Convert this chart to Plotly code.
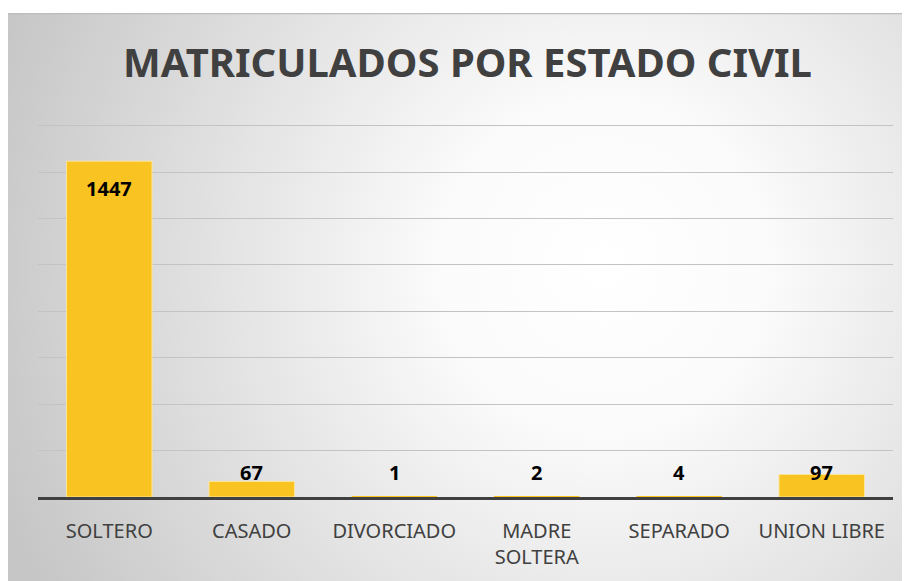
import base64
import plotly.graph_objects as go

categories = ["SOLTERO", "CASADO", "DIVORCIADO", "MADRE<br>SOLTERA", "SEPARADO", "UNION LIBRE"]
values = [1447, 67, 1, 2, 4, 97]
grid_values = [200, 400, 600, 800, 1000, 1200, 1400, 1600]
title_text = "MATRICULADOS POR ESTADO CIVIL"

W, H = 910, 581
OFF = 8  # page body offset
L, R, T, B = 30, 25, 113, 92
pw, ph = W - L - R, H - T - B

svg = ("<svg xmlns='http://www.w3.org/2000/svg' width='902' height='568' preserveAspectRatio='none'>"
       "<defs><radialGradient id='g' gradientUnits='userSpaceOnUse' cx='590' cy='250' r='640'>"
       "<stop offset='0' stop-color='#ffffff'/><stop offset='0.25' stop-color='#fbfbfb'/>"
       "<stop offset='1' stop-color='#c6c6c6'/></radialGradient></defs>"
       "<rect width='902' height='568' fill='url(#g)'/>"
       "<line x1='0' y1='0.5' x2='902' y2='0.5' stroke='#bdbdbd' stroke-width='1.5'/></svg>")
src = "data:image/svg+xml;base64," + base64.b64encode(svg.encode()).decode()

img_left, img_top = 0, 5
x0 = (img_left - L) / pw
y0 = (H - B - img_top) / ph

line_w = [0 if v < 10 else 1 for v in values]

fig = go.Figure(go.Bar(
    x=categories, y=values,
    marker=dict(color="#F9C322", line=dict(color="#FCE49A", width=line_w)),
    hoverinfo="skip",
))

for c, v in zip(categories, values):
    if v > 500:
        fig.add_annotation(x=c, y=v, text=f"<b>{v}</b>", showarrow=False, yshift=-27,
                           font=dict(family="Noto Sans", size=20, color="#000000"))
    else:
        fig.add_annotation(x=c, y=0, text=f"<b>{v}</b>", showarrow=False, yshift=25,
                           font=dict(family="Noto Sans", size=20, color="#000000"))

fig.update_layout(
    width=W, height=H,
    margin=dict(l=L, r=R, t=T, b=B),
    paper_bgcolor="#ffffff",
    plot_bgcolor="rgba(0,0,0,0)",
    bargap=0.4,
    showlegend=False,
    title=dict(text=f"<b>{title_text}</b>", xref="container", yref="container",
               x=(467.5 - OFF) / W, y=1 - (63 - OFF) / H, xanchor="center", yanchor="middle",
               font=dict(family="Noto Sans", size=40, color="#404040")),
    images=[dict(source=src, xref="paper", yref="paper", x=x0, y=y0,
                 sizex=(W - img_left) / pw, sizey=(H - img_top) / ph, sizing="stretch",
                 xanchor="left", yanchor="top", layer="below")],
    xaxis=dict(showline=True, linecolor="#404040", linewidth=3, ticks="",
               tickfont=dict(family="Noto Sans", size=20, color="#404040"),
               ticklabelstandoff=14,
               showgrid=False, fixedrange=True),
    yaxis=dict(range=[0, 1620], tickvals=grid_values,
               showticklabels=False, showgrid=True,
               gridcolor="#c3c3c3", gridwidth=1, zeroline=False, ticks=""),
)

fig.write_html("out.html")
